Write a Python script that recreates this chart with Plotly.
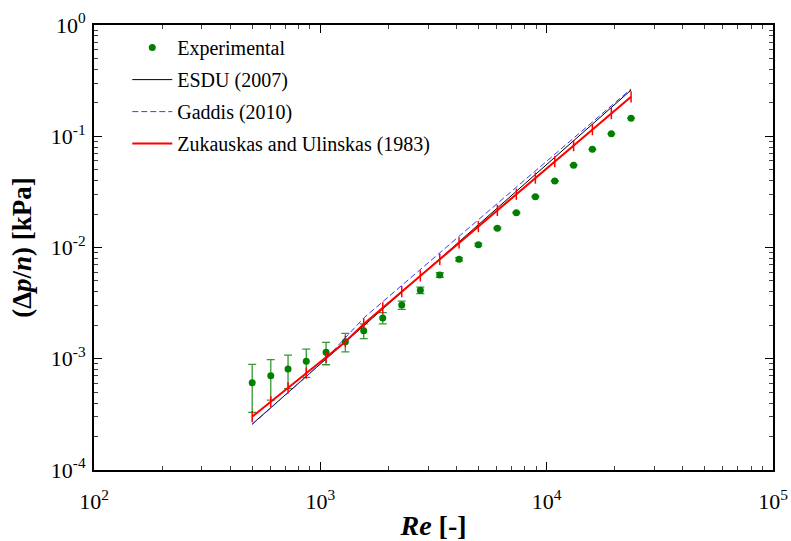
import plotly.graph_objects as go

# Reynolds numbers of the measurements
re_vals = [500, 604, 720, 867, 1060, 1290, 1555, 1887, 2289, 2766, 3371,
           4102, 4991, 6055, 7347, 8915, 10860, 13150, 15920, 19310, 23600]

# Experimental pressure drop per row [kPa]
exp_dp = [6.09e-4, 7.04e-4, 8.09e-4, 9.49e-4, 1.143e-3, 1.423e-3, 1.787e-3,
          2.324e-3, 3.042e-3, 4.124e-3, 5.658e-3, 7.85e-3, 1.060e-2, 1.488e-2,
          2.055e-2, 2.861e-2, 3.961e-2, 5.492e-2, 7.63e-2, 0.1054, 0.1450]
exp_err = [2.8e-4, 2.8e-4, 2.7e-4, 2.7e-4, 2.6e-4, 2.7e-4, 2.7e-4,
           2.7e-4, 2.6e-4, 2.8e-4, 2.7e-4, 2.7e-4, 2.7e-4, 2.7e-4,
           2.7e-4, 2.7e-4, 2.7e-4, 2.7e-4, 2.7e-4, 2.7e-4, 2.7e-4]

# Correlations
esdu_dp = [2.588e-4, 3.623e-4, 4.967e-4, 6.934e-4, 9.94e-4, 1.413e-3, 1.977e-3,
           2.797e-3, 3.958e-3, 5.557e-3, 7.918e-3, 1.126e-2, 1.602e-2, 2.266e-2,
           3.205e-2, 4.535e-2, 6.460e-2, 9.107e-2, 0.1283, 0.1816, 0.2602]
gaddis_dp = [2.564e-4, 3.586e-4, 4.911e-4, 6.912e-4, 1.005e-3, 1.536e-3, 2.324e-3,
             3.256e-3, 4.563e-3, 6.342e-3, 8.942e-3, 1.261e-2, 1.774e-2, 2.486e-2,
             3.483e-2, 4.881e-2, 6.884e-2, 9.605e-2, 0.1340, 0.1878, 0.2665]
zuk_dp = [3.014e-4, 4.098e-4, 5.470e-4, 7.430e-4, 1.032e-3, 1.424e-3, 2.054e-3,
          2.871e-3, 4.010e-3, 5.561e-3, 7.825e-3, 1.099e-2, 1.543e-2, 2.156e-2,
          3.011e-2, 4.206e-2, 5.916e-2, 8.235e-2, 0.1146, 0.1601, 0.2262]

x_tickvals = [100, 1000, 10000, 100000]
x_ticktext = ["10<sup>2</sup>", "10<sup>3</sup>", "10<sup>4</sup>", "10<sup>5</sup>"]
y_tickvals = [1e-4, 1e-3, 1e-2, 1e-1, 1]
y_ticktext = ["10<sup>-4</sup>", "10<sup>-3</sup>", "10<sup>-2</sup>", "10<sup>-1</sup>", "10<sup>0</sup>"]

FONT = "Liberation Serif"

fig = go.Figure()
fig.add_trace(go.Scatter(
    x=re_vals, y=exp_dp, mode="markers", name="Experimental",
    marker=dict(color="#008000", size=7),
    error_y=dict(type="data", array=exp_err, visible=True,
                 color="rgba(0,128,0,0.8)", thickness=1.3, width=4),
    legendgroup="a"))
fig.add_trace(go.Scatter(
    x=re_vals, y=esdu_dp, mode="lines", name="ESDU (2007)",
    line=dict(color="black", width=1), legendgroup="b"))
fig.add_trace(go.Scatter(
    x=re_vals, y=gaddis_dp, mode="lines", name="Gaddis (2010)",
    line=dict(color="#3939ff", width=1, dash="6px,3px"), legendgroup="c"))
fig.add_trace(go.Scatter(
    x=re_vals, y=zuk_dp, mode="lines", name="Zukauskas and Ulinskas (1983)",
    line=dict(color="#ff0000", width=2), legendgroup="d"))
fig.add_trace(go.Scatter(
    x=re_vals, y=zuk_dp, mode="markers", showlegend=False,
    marker=dict(symbol="line-ns", size=8, line=dict(color="#ff0000", width=1.5)),
    hoverinfo="skip"))

axis_common = dict(
    type="log", showgrid=False, zeroline=False, automargin=False,
    showline=True, linecolor="black", linewidth=2, mirror="allticks",
    ticks="inside", ticklen=8, tickwidth=1, tickcolor="black",
    minor=dict(ticks="inside", ticklen=4, tickwidth=1, tickcolor="#444444",
               dtick="D1", showgrid=False),
    tickfont=dict(family=FONT, size=22, color="black"),
)

fig.update_xaxes(**axis_common, range=[2, 5], tickvals=x_tickvals, ticktext=x_ticktext,
                 ticklabelstandoff=11,
                 title=dict(text="<b><i>Re</i> [-]</b>", font=dict(family=FONT, size=28, color="black"),
                            standoff=6))
fig.update_yaxes(**axis_common, range=[-4, 0], tickvals=y_tickvals, ticktext=y_ticktext,
                 ticklabelstandoff=2,
                 title=dict(text="<b>(Δ<i>p</i>/<i>n</i>) [kPa]</b>", font=dict(family=FONT, size=27, color="black"),
                            standoff=11))

fig.update_layout(
    width=791, height=541,
    margin=dict(l=94, r=18, t=25, b=71, autoexpand=False),
    paper_bgcolor="white", plot_bgcolor="white",
    font=dict(family=FONT, color="black"),
    showlegend=True,
    legend=dict(x=0.049, y=0.993, xanchor="left", yanchor="top",
                bgcolor="rgba(0,0,0,0)", borderwidth=0,
                font=dict(family=FONT, size=20, color="black"),
                traceorder="grouped", tracegroupgap=3, itemwidth=40),
)

fig.write_html("out.html")
